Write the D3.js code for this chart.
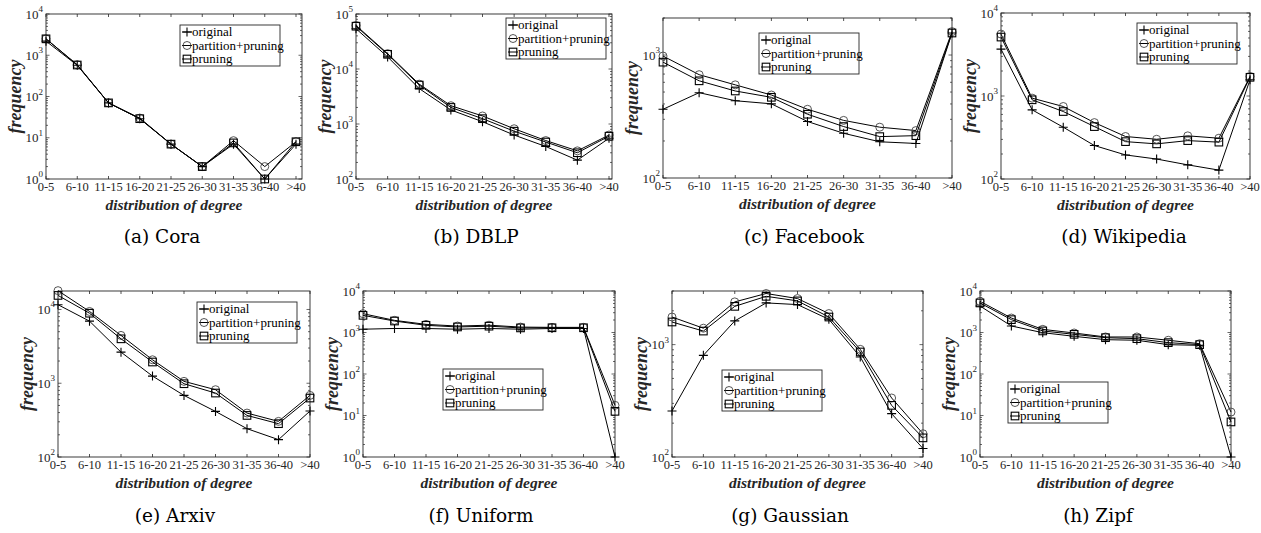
<!DOCTYPE html>
<html><head><meta charset="utf-8">
<script src="https://cdn.jsdelivr.net/npm/d3@7"></script>
<style>
html,body{margin:0;padding:0;background:#fff;}
svg{display:block;}
</style></head>
<body>
<svg id="chart" width="1261" height="533"></svg>
<script>
// ---------- data ----------
const categories = ["0-5","6-10","11-15","16-20","21-25","26-30","31-35","36-40",">40"];
const seriesNames = ["original","partition+pruning","pruning"];
const titles = ["(a) Cora","(b) DBLP","(c) Facebook","(d) Wikipedia","(e) Arxiv","(f) Uniform","(g) Gaussian","(h) Zipf"];

const coraOriginal  = [2200, 570, 70, 29, 7, 2, 7, 1, 7];
const coraPartition = [2500, 590, 70, 30, 7, 2, 8.5, 2, 8];
const coraPruning   = [2500, 580, 70, 29, 7, 2, 7.5, 1, 8];

const dblpOriginal  = [54000, 16600, 4400, 1800, 1100, 630, 390, 220, 550];
const dblpPartition = [62000, 19000, 5300, 2150, 1400, 820, 500, 325, 630];
const dblpPruning   = [60000, 18500, 5100, 2000, 1250, 740, 470, 300, 600];

const facebookOriginal  = [362, 494, 425, 401, 288, 231, 197, 191, 1510];
const facebookPartition = [981, 692, 572, 473, 362, 294, 259, 243, 1550];
const facebookPruning   = [875, 617, 510, 453, 330, 262, 217, 221, 1510];

const wikiOriginal  = [3670, 681, 421, 253, 195, 174, 148, 128, 1570];
const wikiPartition = [5570, 942, 747, 478, 325, 301, 331, 310, 1720];
const wikiPruning   = [5130, 900, 650, 428, 282, 265, 290, 278, 1680];

const arxivOriginal  = [11600, 6950, 2640, 1250, 684, 415, 242, 172, 420];
const arxivPartition = [18000, 9400, 4450, 2080, 1060, 817, 394, 304, 684];
const arxivPruning   = [15500, 8900, 4000, 1940, 985, 736, 366, 283, 630];

const uniformOriginal  = [1200, 1250, 1250, 1200, 1250, 1200, 1250, 1250, 1];
const uniformPartition = [2840, 1960, 1570, 1430, 1500, 1350, 1330, 1330, 17.6];
const uniformPruning   = [2590, 1890, 1490, 1360, 1420, 1290, 1300, 1300, 12.6];

const gaussOriginal  = [257, 803, 1625, 2350, 2270, 1680, 777, 243, 119];
const gaussPartition = [1760, 1400, 2400, 2850, 2570, 1890, 908, 335, 161];
const gaussPruning   = [1590, 1320, 2190, 2690, 2450, 1760, 860, 288, 148];

const zipfOriginal  = [4350, 1435, 990, 809, 672, 650, 509, 490, 1];
const zipfPartition = [5640, 2230, 1190, 973, 780, 780, 650, 537, 12.1];
const zipfPruning   = [5150, 2040, 1090, 903, 750, 710, 570, 510, 7];

const yDomains = [[1,1e4],[100,1e5],[100,2000],[100,1e4],[100,17800],[1,1e4],[100,3000],[1,1e4]];

// ---------- layout (positions only) ----------
const frames = [
  [46,14,302,179],[356,14,612,179],[663,18,952,178],[1001,13,1250,179],
  [58,291,310,457],[363,291,615,457],[672,291,923,457],[980,291,1231,457]
];
const xPadRight = [6,3,0,0,0,0,0,0];
const legends = [
  [180,25],[506,18],[759,33],[1137,23],
  [197,302],[443,369],[722,370],[1008,382]
];
const captionX = [162,476,804,1124,175,481,790,1098];

const datasets = [
  [coraOriginal, coraPartition, coraPruning],
  [dblpOriginal, dblpPartition, dblpPruning],
  [facebookOriginal, facebookPartition, facebookPruning],
  [wikiOriginal, wikiPartition, wikiPruning],
  [arxivOriginal, arxivPartition, arxivPruning],
  [uniformOriginal, uniformPartition, uniformPruning],
  [gaussOriginal, gaussPartition, gaussPruning],
  [zipfOriginal, zipfPartition, zipfPruning]
];

const svg = d3.select("#chart");
const axisColor = "#262626";
const tickFont = "Liberation Serif, Times New Roman, serif";

function drawMarker(g, kind, x, y) {
  if (kind === 0) {
    g.append("path").attr("d", `M${x-4.5},${y}H${x+4.5}M${x},${y-4.5}V${y+4.5}`)
      .attr("stroke", "#000").attr("stroke-width", 1.1).attr("fill", "none");
  } else if (kind === 1) {
    g.append("circle").attr("cx", x).attr("cy", y).attr("r", 4)
      .attr("stroke", "#444").attr("stroke-width", 0.9).attr("fill", "none");
  } else {
    g.append("rect").attr("x", x-3.8).attr("y", y-3.8).attr("width", 7.6).attr("height", 7.6)
      .attr("stroke", "#000").attr("stroke-width", 1.1).attr("fill", "none");
  }
}

datasets.forEach((series, i) => {
  const [L, T, R, B] = frames[i];
  const g = svg.append("g");
  const x = d3.scalePoint().domain(categories).range([L, R - xPadRight[i]]);
  const y = d3.scaleLog().domain(yDomains[i]).range([B, T]);

  // frame
  g.append("rect").attr("x", L).attr("y", T).attr("width", R-L).attr("height", B-T)
    .attr("fill", "none").attr("stroke", axisColor).attr("stroke-width", 0.9);

  // x ticks (inward, top and bottom)
  categories.forEach(c => {
    const xx = x(c);
    g.append("path").attr("d", `M${xx},${B}V${B-3}M${xx},${T}V${T+3}`)
      .attr("stroke", axisColor).attr("stroke-width", 0.8);
    g.append("text").attr("x", xx).attr("y", B + 12).attr("text-anchor", "middle")
      .attr("font-family", tickFont).attr("font-size", 12.5).attr("fill", axisColor).text(c);
  });

  // y ticks: decades and minor
  const [d0, d1] = yDomains[i];
  const e0 = Math.floor(Math.log10(d0)), e1 = Math.ceil(Math.log10(d1));
  for (let e = e0; e <= e1; e++) {
    for (let m = 1; m <= 9; m++) {
      const v = m * Math.pow(10, e);
      if (v < d0 * 0.999 || v > d1 * 1.001) continue;
      const yy = y(v);
      const len = m === 1 ? 3.5 : 2;
      g.append("path").attr("d", `M${L},${yy}H${L+len}M${R},${yy}H${R-len}`)
        .attr("stroke", axisColor).attr("stroke-width", 0.7);
      if (m === 1) {
        const t = g.append("text").attr("x", L - 3).attr("y", yy + 4.5).attr("text-anchor", "end")
          .attr("font-family", tickFont).attr("font-size", 13).attr("fill", axisColor);
        t.append("tspan").text("10");
        t.append("tspan").attr("dy", -6.5).attr("font-size", 9).text(String(e));
      }
    }
  }

  // series lines + markers
  series.forEach((vals, k) => {
    const pts = vals.map((v, j) => [x(categories[j]), y(v)]);
    g.append("path").attr("d", d3.line()(pts)).attr("fill", "none")
      .attr("stroke", "#000").attr("stroke-width", 1);
    pts.forEach(p => drawMarker(g, k, p[0], p[1]));
  });

  // axis labels
  g.append("text").attr("x", (L+R)/2).attr("y", B + 31).attr("text-anchor", "middle")
    .attr("font-family", tickFont).attr("font-size", 15.5).attr("font-weight", "bold")
    .attr("font-style", "italic").attr("fill", axisColor).text("distribution of degree");
  g.append("text").attr("transform", `translate(${L-25},${(T+B)/2}) rotate(-90)`)
    .attr("text-anchor", "middle").attr("font-family", tickFont).attr("font-size", 18)
    .attr("font-weight", "bold").attr("font-style", "italic").attr("fill", axisColor).text("frequency");

  // legend
  const [lx, ly] = legends[i];
  const lw = 100, lh = 41;
  const lg = g.append("g");
  lg.append("rect").attr("x", lx).attr("y", ly).attr("width", lw).attr("height", lh)
    .attr("fill", "#fff").attr("stroke", axisColor).attr("stroke-width", 0.9);
  seriesNames.forEach((name, k) => {
    const yy = ly + 7 + k * 13.5;
    lg.append("path").attr("d", `M${lx+2},${yy}H${lx+12}`).attr("stroke", "#000").attr("stroke-width", 1);
    drawMarker(lg, k, lx + 7, yy);
    lg.append("text").attr("x", lx + 12).attr("y", yy + 4).attr("font-family", tickFont)
      .attr("font-size", 13).attr("fill", "#000").text(name);
  });

  // caption
  svg.append("text").attr("x", captionX[i]).attr("y", i < 4 ? 243 : 522).attr("text-anchor", "middle")
    .attr("font-family", "DejaVu Serif, serif").attr("font-size", 18.5).attr("fill", "#000").text(titles[i]);
});
</script>
</body></html>
